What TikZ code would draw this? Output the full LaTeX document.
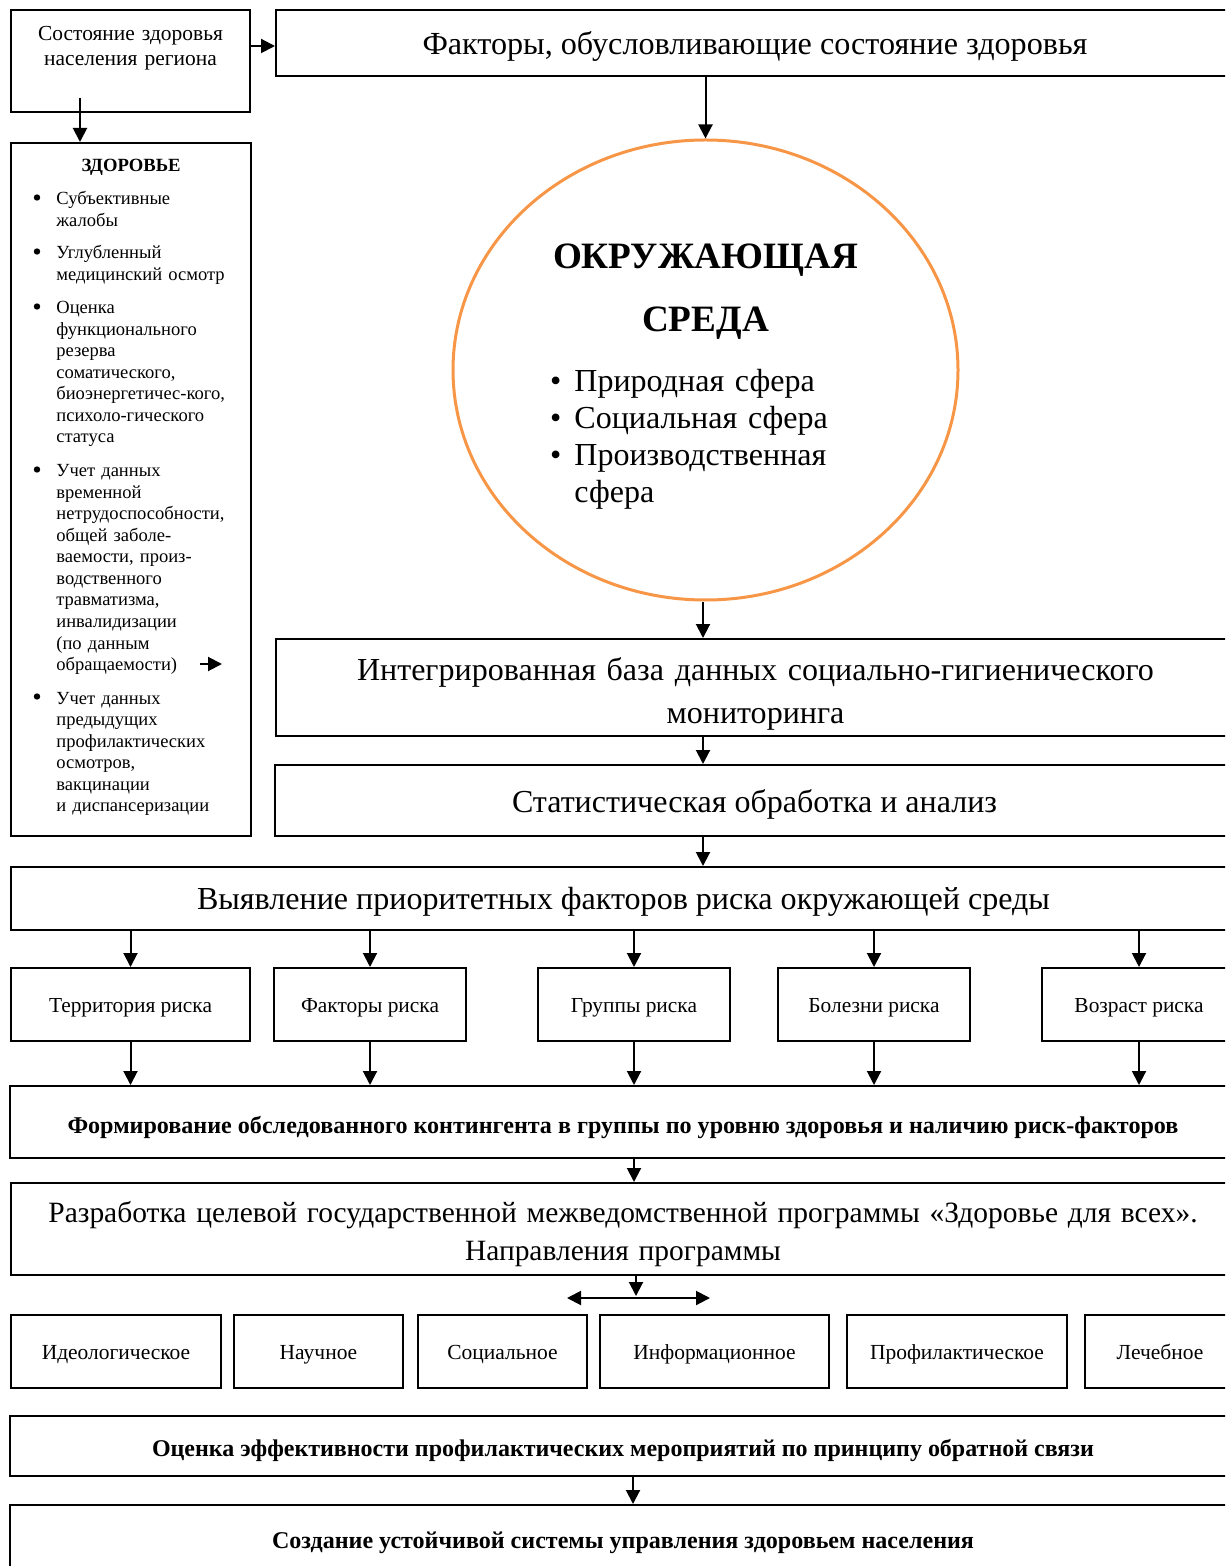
\documentclass[tikz,border=0pt]{standalone}
\usepackage{fontspec}
\setmainfont{Liberation Serif}
\usetikzlibrary{arrows.meta,shapes.geometric}
\definecolor{envor}{HTML}{F79646}
\newlength\fitL
\newlength\fitB
% #1 target width (px), #2 sample text, #3 baselineskip (px); 1px = 0.5pt
\newcommand\fitsize[3]{%
  \setbox0=\hbox{\fontsize{10pt}{12pt}\selectfont #2}%
  \global\fitL=\dimexpr 10pt*\number\dimexpr #1pt/2\relax/\number\wd0\relax
  \global\fitB=\dimexpr #3pt/2\relax
  \fontsize{\fitL}{\fitB}\selectfont}
\newcommand\smallfnt{\fitsize{168}{нетрудоспособности,}{21.5}}
\newcommand\envbul{\leavevmode\llap{•\hspace{6.5pt}}}
\tikzset{
  box/.style={draw, line width=1pt, inner sep=0pt, rectangle, text height=9.5pt, text depth=2pt},
  rect/.style n args={4}{minimum width={(#3-#1)*0.5pt}, minimum height={(#4-#2)*0.5pt}, at={({(#1+#3)/2},{(#2+#4)/2})}},
  arr/.style={line width=1pt, -{Triangle[length=7pt,width=7pt]}},
  darr/.style={line width=1pt, {Triangle[length=7pt,width=7pt]}-{Triangle[length=7pt,width=7pt]}},
  txt/.style={inner sep=0pt},
  itemtxt/.style={inner sep=0pt, anchor=base west, text width=100pt, align=left, font=\smallfnt},
  riskbox/.style={box, font=\fitsize{163}{Территория риска}{20}},
  dirbox/.style={box, font=\fitsize{174}{Профилактическое}{20}},
}
\begin{document}
\begin{tikzpicture}[x=0.5pt,y=-0.5pt]
\useasboundingbox (0,0) rectangle (1225,1566);
\clip (0,0) rectangle (1225,1566);

% top row
\node[box, rect={11}{10}{250}{112}] (sost) {};
\node[txt, anchor=base, text width=120pt, align=center, font=\fitsize{183}{Состояние здоровья}{25}] (sostt) at (130.5,41) {Состояние здоровья\\населения региона};
\node[box, rect={276}{10}{1234}{76}, text height=13.5pt, font=\fitsize{665}{Факторы, обусловливающие состояние здоровья}{30}] (fact) {Факторы, обусловливающие состояние здоровья};

% health box
\node[box, rect={11}{143}{251}{836}] (zdor) {};
\node[txt, anchor=base, font={\bfseries\fitsize{99}{ЗДОРОВЬЕ}{20}}] (zdort) at (131,172) {ЗДОРОВЬЕ};
\node[itemtxt] (i1) at (56,205) {Субъективные\\жалобы};
\node[itemtxt] (i2) at (56,259) {Углубленный\\медицинский осмотр};
\node[itemtxt] (i3) at (56,314) {Оценка\\функционального\\резерва\\соматического,\\биоэнергетичес-кого,\\психоло-гического\\статуса};
\node[itemtxt] (i4) at (56,477) {Учет данных\\временной\\нетрудоспособности,\\общей заболе-\\ваемости, произ-\\водственного\\травматизма,\\инвалидизации\\(по данным\\обращаемости)};
\node[itemtxt] (i5) at (56,704) {Учет данных\\предыдущих\\профилактических\\осмотров,\\вакцинации\\и диспансеризации};
\foreach \yy in {197.5,251.5,306.5,469.5,696.5} \fill (37,\yy) circle[radius=1.6pt];
\coordinate (sa1) at (200,664);
\coordinate (sa2) at (222,664);
\draw[arr] (sa1) -- (sa2);

% environment ellipse
\node[draw=envor, line width=1.5pt, ellipse, minimum width=252.5pt, minimum height=230pt, inner sep=0pt] (env) at (705.5,370) {};
\node[txt, anchor=base, text width=200pt, align=center, font={\bfseries\fitsize{305}{ОКРУЖАЮЩАЯ}{63}}] (envt) at (705.5,269) {ОКРУЖАЮЩАЯ\\СРЕДА};
\node[txt, anchor=base west, text width=150pt, align=left, font=\fitsize{252}{Производственная}{37}] (envl) at (574,392)
  {\envbul Природная сфера\\\envbul Социальная сфера\\\envbul Производственная\\сфера};

% middle column
\node[box, rect={276}{639}{1234}{736}] (integ) {};
\node[txt, anchor=base, text width=450pt, align=center, font=\fitsize{789}{Интегрированная база данных социально-гигиенического}{43}] (integt) at (755.5,680.5) {Интегрированная база данных социально-гигиенического\\мониторинга};
\node[box, rect={275}{765}{1234}{836}, text height=13.5pt, font=\fitsize{485}{Статистическая обработка и анализ}{30}] (stat) {Статистическая обработка и анализ};
\node[box, rect={11}{867}{1236}{930}, text height=12.5pt, font=\fitsize{853}{Выявление приоритетных факторов риска окружающей среды}{30}] (vyy) {Выявление приоритетных факторов риска окружающей среды};

% risk boxes
\node[riskbox, rect={11}{968}{250}{1041}] (r1) {Территория риска};
\node[riskbox, rect={274}{968}{466}{1041}] (r2) {Факторы риска};
\node[riskbox, rect={538}{968}{730}{1041}] (r3) {Группы риска};
\node[riskbox, rect={778}{968}{970}{1041}] (r4) {Болезни риска};
\node[riskbox, rect={1042}{968}{1236}{1041}] (r5) {Возраст риска};

\node[box, rect={10}{1086}{1236}{1158}, text height=13.5pt, font={\bfseries\fitsize{1111}{Формирование обследованного контингента в группы по уровню здоровья и наличию риск-факторов}{30}}] (formir) {Формирование обследованного контингента в группы по уровню здоровья и наличию риск-факторов};

\node[box, rect={11}{1183}{1236}{1275}] (razr) {};
\node[txt, anchor=base, text width=600pt, align=center, font=\fitsize{1132}{Разработка целевой государственной межведомственной программы «Здоровье для всех».}{38}] (razrt) at (623,1222) {Разработка целевой государственной межведомственной программы «Здоровье для всех».\\Направления программы};

% directions
\node[dirbox, rect={11}{1315}{221}{1388}] (p1) {Идеологическое};
\node[dirbox, rect={234}{1315}{403}{1388}] (p2) {Научное};
\node[dirbox, rect={418}{1315}{587}{1388}] (p3) {Социальное};
\node[dirbox, rect={600}{1315}{829}{1388}] (p4) {Информационное};
\node[dirbox, rect={847}{1315}{1067}{1388}] (p5) {Профилактическое};
\node[dirbox, rect={1085}{1315}{1235}{1388}] (p6) {Лечебное};

\node[box, rect={10}{1416}{1236}{1476}, text height=12.5pt, font={\bfseries\fitsize{942}{Оценка эффективности профилактических мероприятий по принципу обратной связи}{30}}] (ots) {Оценка эффективности профилактических мероприятий по принципу обратной связи};
\node[box, rect={10}{1505}{1236}{1575}, text height=10.5pt, font={\bfseries\fitsize{702}{Создание устойчивой системы управления здоровьем населения}{30}}] (sozd) {Создание устойчивой системы управления здоровьем населения};

% connectors
\coordinate (a1) at (250,46);
\draw[arr] (a1) -- (a1 -| fact.west);
\coordinate (a2) at (80,98);
\draw[arr] (a2) -- (a2 |- zdor.north);
\draw[arr] (fact.south -| env.north) -- (env.north);
\coordinate (cx) at (703,0);
\draw[arr] (env.south -| cx) -- (integ.north -| cx);
\draw[arr] (integ.south -| cx) -- (stat.north -| cx);
\draw[arr] (stat.south -| cx) -- (vyy.north -| cx);
\foreach \r in {r1,r2,r3,r4,r5} {
  \draw[arr] (vyy.south -| \r.north) -- (\r.north);
  \draw[arr] (\r.south) -- (\r.south |- formir.north);
}
\coordinate (cy) at (634,0);
\draw[arr] (formir.south -| cy) -- (razr.north -| cy);
\coordinate (dm) at (636,1296);
\draw[arr] (razr.south -| dm) -- (dm);
\coordinate (dl) at (567,1298);
\coordinate (dr) at (710,1298);
\draw[darr] (dl) -- (dr);
\coordinate (cz) at (633,0);
\draw[arr] (ots.south -| cz) -- (sozd.north -| cz);
\end{tikzpicture}
\end{document}
